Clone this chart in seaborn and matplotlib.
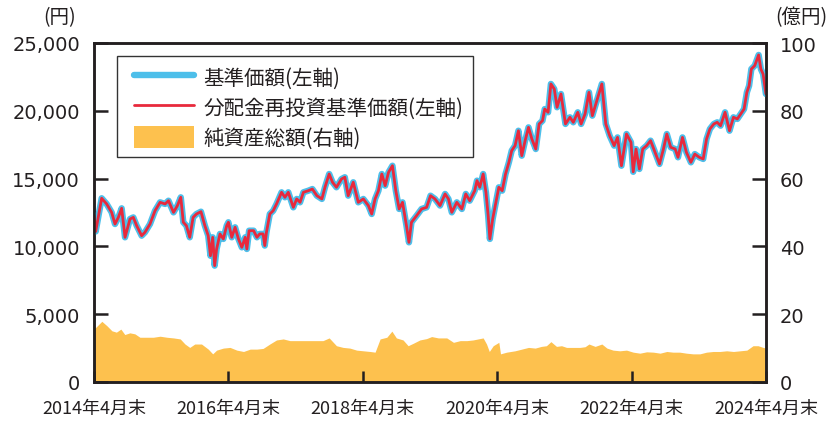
import numpy as np
import pandas as pd
import matplotlib
matplotlib.use('Agg')
import matplotlib.pyplot as plt
import seaborn as sns
from matplotlib.lines import Line2D
from matplotlib.patches import Patch, Rectangle

sns.set_theme(style='ticks')
plt.rcParams['font.family'] = ['Noto Sans CJK JP', 'DejaVu Sans']

# 基準価額 (円) : 2014年4月末からの経過月数と値
nav_months = [0, 0.3, 1.37, 2.26, 3.15, 3.75, 4.35, 4.94, 5.54, 6.43, 7.02, 7.62, 8.51, 9.1,
              10.0, 10.9, 11.8, 12.7, 13.3, 14.2, 14.9, 15.5, 15.95, 16.5, 17.1, 17.7, 18.3,
              19.1, 19.8, 20.4, 20.8, 21.2, 21.55, 21.9, 22.5, 23.1, 23.7, 24.0, 24.6, 25.2,
              25.8, 26.4, 27.0, 27.3, 27.7, 28.5, 29.1, 29.6, 30.2, 30.5, 30.8, 31.4, 32.0,
              32.6, 33.5, 34.1, 34.7, 35.6, 36.2, 36.8, 37.4, 38.3, 39.0, 39.8, 40.7, 41.25,
              42.0, 42.6, 43.3, 44.2, 44.8, 45.4, 46.3, 47.2, 48.1, 49.0, 49.6, 50.2, 50.8,
              51.4, 52.0, 52.6, 53.3, 53.9, 54.5, 55.1, 55.8, 56.25, 56.7, 57.6, 58.5, 59.4,
              60.1, 60.9, 61.8, 62.7, 63.3, 63.9, 64.8, 65.7, 66.4, 67.1, 68.0, 68.4, 68.9,
              69.5, 70.0, 70.4, 70.7, 71.2, 71.9, 72.3, 72.9, 73.5, 74.1, 74.6, 75.2, 75.8,
              76.4, 77.0, 77.6, 78.2, 78.9, 79.5, 80.1, 80.5, 81.1, 81.6, 82.2, 82.7, 83.4,
              84.2, 85.0, 85.6, 86.4, 87.0, 87.7, 88.4, 89.0, 89.8, 90.7, 91.4, 92.1, 92.9,
              93.5, 94.2, 95.1, 95.9, 96.3, 96.8, 97.4, 98.0, 98.7, 99.4, 100.2, 101.0,
              101.7, 102.3, 103.0, 103.8, 104.3, 105.1, 105.8, 106.6, 107.3, 108.1, 108.8,
              109.4, 110.0, 110.7, 111.3, 111.9, 112.7, 113.5, 114.2, 114.9, 115.5, 116.1,
              116.6, 117.0, 117.4, 118.0, 118.7, 119.1, 119.5, 120.0]
nav_values = [12300, 11100, 13550, 13130, 12510, 11650, 12140, 12810, 10670, 12020, 12140, 11530,
              10790, 11040, 11650, 12630, 13250, 13130, 13370, 12510, 13010, 13620, 11780, 11530,
              10670, 12140, 12390, 12560, 11530, 10790, 9310, 10670, 8580, 9810, 10920, 10550,
              11530, 11780, 10670, 11410, 10550, 9930, 10670, 9810, 11160, 11160, 10670, 10920,
              10920, 10060, 11040, 12390, 12630, 13130, 13990, 13620, 13990, 12880, 13500, 13250,
              13990, 14110, 14230, 13740, 13500, 14360, 15340, 14730, 14360, 14970, 15100, 13740,
              14730, 13250, 13500, 13010, 12390, 13500, 14110, 15340, 14480, 15460, 15950, 14110,
              12760, 13250, 11530, 10300, 11780, 12260, 12760, 12880, 13740, 13500, 13010, 13870,
              13500, 12510, 13250, 12760, 13870, 13370, 14110, 14850, 14360, 15340, 13990, 12260,
              10550, 12020, 13500, 14360, 14110, 15340, 16200, 17060, 17430, 18530, 16690, 17800,
              18780, 17920, 17180, 19030, 19270, 20130, 19890, 21980, 21610, 20260, 21240, 19030,
              19520, 19150, 19890, 19030, 19770, 21360, 19640, 20750, 21980, 19030, 18160, 17430,
              18040, 15950, 18290, 17680, 15500, 17180, 15710, 17180, 17430, 17800, 16940, 16080,
              17180, 18290, 17310, 17180, 16570, 18040, 16940, 16200, 16810, 16570, 16450, 17920,
              18660, 19030, 19150, 18900, 19890, 18530, 19520, 19400, 19770, 20130, 21360, 21850,
              23080, 23330, 24120, 23080, 22710, 21240]
# 分配金再投資基準価額 (円) : 分配なしのため基準価額と同じ
reinvest_values = list(nav_values)

# 純資産総額 (億円)
aum_months = [0, 1.4, 2.3, 3.2, 4.0, 4.8, 5.5, 6.4, 7.3, 8.2, 9.4, 10.6, 11.8, 13.0, 14.2, 15.4,
              16.25, 17.1, 18.0, 19.2, 20.4, 21.2, 21.9, 23.1, 24.3, 25.5, 26.7, 27.9, 29.1,
              30.2, 31.4, 32.6, 33.8, 35.0, 36.2, 37.4, 38.6, 39.8, 40.9, 42.0, 43.3, 44.5,
              45.7, 46.9, 48.1, 49.3, 50.2, 51.1, 52.3, 53.2, 54.0, 55.2, 56.1, 57.0, 58.2,
              59.4, 60.3, 61.5, 63.0, 64.2, 65.4, 66.6, 67.7, 68.6, 69.5, 70.1, 70.6, 71.3,
              72.3, 72.6, 73.7, 75.2, 76.4, 77.6, 78.8, 79.9, 80.8, 81.6, 82.6, 83.5, 84.4,
              85.6, 86.8, 87.7, 88.4, 89.5, 90.7, 91.6, 92.7, 93.9, 95.1, 96.3, 97.5, 98.7,
              99.9, 101.1, 102.3, 103.4, 104.6, 105.8, 107.0, 108.2, 109.4, 110.6, 111.8,
              113.0, 114.2, 115.4, 116.6, 117.7, 118.6, 119.5, 120.0]
aum_values = [15.6, 17.9, 16.6, 15.1, 14.7, 15.6, 14.0, 14.5, 14.2, 13.2, 13.2, 13.2, 13.5, 13.2,
              13.0, 12.7, 11.2, 10.2, 11.2, 11.2, 9.7, 8.3, 9.4, 10.0, 10.2, 9.4, 9.0, 9.7, 9.7,
              9.9, 11.2, 12.4, 12.7, 12.2, 12.2, 12.2, 12.2, 12.2, 12.2, 13.0, 10.7, 10.2, 10.0,
              9.4, 9.2, 9.0, 8.8, 12.7, 13.2, 15.0, 13.0, 12.4, 10.7, 11.4, 12.4, 12.8, 13.4,
              13.0, 13.0, 11.7, 12.2, 12.2, 12.4, 12.7, 13.0, 11.2, 9.0, 10.7, 11.7, 8.3, 8.8,
              9.2, 9.7, 10.2, 10.0, 10.5, 10.7, 11.9, 10.5, 10.7, 10.2, 10.2, 10.2, 10.4, 11.2,
              10.5, 11.2, 10.0, 9.4, 9.2, 9.4, 8.8, 8.5, 8.9, 8.8, 8.5, 9.0, 8.8, 8.8, 8.5, 8.3,
              8.3, 8.8, 9.0, 9.0, 9.2, 9.0, 9.2, 9.4, 10.7, 10.7, 10.2, 10.0]

tick_dates = ['2014-04-30', '2016-04-30', '2018-04-30', '2020-04-30', '2022-04-30', '2024-04-30']
tick_labels = ['2014年4月末', '2016年4月末', '2018年4月末', '2020年4月末', '2022年4月末', '2024年4月末']
left_ticks = [0, 5000, 10000, 15000, 20000, 25000]
right_ticks = [0, 20, 40, 60, 80, 100]

blue = '#4DBFEA'
red = '#E8293C'
orange = '#FDC14E'
dark = '#231F20'

base = pd.Timestamp(tick_dates[0])


def to_dates(months):
    return base + pd.to_timedelta(np.asarray(months) * 30.4375, unit='D')


df = pd.DataFrame({'date': to_dates(nav_months), 'nav': nav_values, 'reinvest': reinvest_values})
aum = pd.DataFrame({'date': to_dates(aum_months), 'aum': aum_values})

fig = plt.figure(figsize=(8.3, 4.27), dpi=100)
ax = fig.add_axes([94 / 830, 1 - 383 / 427, 672 / 830, 339 / 427])
ax2 = ax.twinx()

ax2.fill_between(aum['date'], aum['aum'], 0, color=orange, linewidth=0)
ax.set_zorder(ax2.get_zorder() + 1)
ax.patch.set_visible(False)

sns.lineplot(data=df, x='date', y='nav', ax=ax, color=blue, linewidth=4.6,
             solid_capstyle='round', solid_joinstyle='round')
sns.lineplot(data=df, x='date', y='reinvest', ax=ax, color=red, linewidth=2.0,
             solid_joinstyle='round')

ax.set_xlim(pd.Timestamp(tick_dates[0]), pd.Timestamp(tick_dates[-1]))
ax.set_ylim(0, 25000)
ax2.set_ylim(0, 100)
ax.set_xticks(pd.to_datetime(tick_dates))
ax.set_xticklabels(tick_labels)
ax.set_yticks(left_ticks)
ax.set_yticklabels([f'{v:,}' for v in left_ticks])
ax2.set_yticks(right_ticks)
ax2.set_yticklabels([str(v) for v in right_ticks])
ax.set_xlabel('')
ax.set_ylabel('')
ax2.set_ylabel('')

ax.tick_params(axis='y', direction='in', length=10, width=1.8, pad=10, labelsize=14,
               color=dark, labelcolor=dark)
ax.tick_params(axis='x', direction='in', length=8, width=1.8, pad=12, labelsize=13,
               color=dark, labelcolor=dark)
ax2.tick_params(axis='y', direction='in', length=10, width=1.8, pad=10, labelsize=14,
                color=dark, labelcolor=dark)
for lab in ax.get_yticklabels() + ax2.get_yticklabels():
    lab.set_fontfamily('DejaVu Sans')

for a in (ax, ax2):
    for s in a.spines.values():
        s.set_color(dark)
        s.set_linewidth(1.8)

# 凡例の枠 (余白を左右と上下で変えるため別に描く)
ax.add_patch(Rectangle((0.0342, 0.6637), 0.5298, 0.298, transform=ax.transAxes,
                       facecolor='white', edgecolor='#333333', linewidth=1.0,
                       zorder=4, clip_on=False))

handles = [
    Line2D([], [], color=blue, linewidth=4.6, solid_capstyle='round'),
    Line2D([], [], color=red, linewidth=2.0),
    Patch(facecolor=orange, edgecolor='none'),
]
labels = ['基準価額(左軸)', '分配金再投資基準価額(左軸)', '純資産総額(右軸)']
leg = ax.legend(handles, labels, loc='upper left', bbox_to_anchor=(0.0595, 0.93),
                borderaxespad=0, fontsize=14.8, handlelength=2.9, handleheight=1.2,
                handletextpad=0.49, labelspacing=0.36, borderpad=0, frameon=False)
leg.set_zorder(5)
for t in leg.get_texts():
    t.set_color(dark)

fig.text(60 / 830, 1 - 18 / 427, '(円)', ha='center', va='center', fontsize=14, color=dark)
fig.text(801 / 830, 1 - 18 / 427, '(億円)', ha='center', va='center', fontsize=14, color=dark)

fig.savefig('out.png', dpi=100)
